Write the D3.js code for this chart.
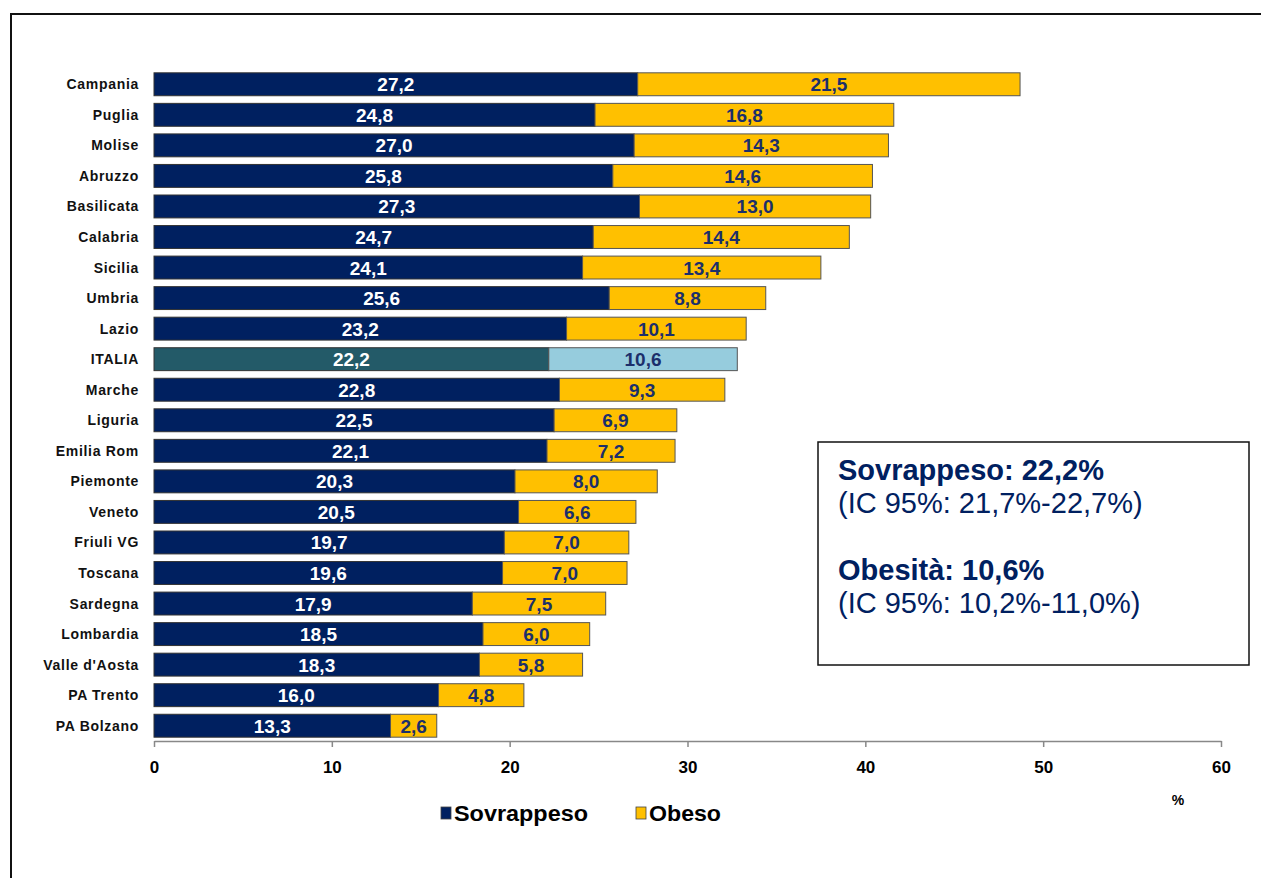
<!DOCTYPE html>
<html>
<head>
<meta charset="utf-8">
<script src="https://cdn.jsdelivr.net/npm/d3@7"></script>
<style>
	body { margin: 0; background: #fff; }
	svg { font-family: Arial, "Liberation Sans", sans-serif; }
	.cat-label { font-size: 14px; font-weight: bold; fill: #111; letter-spacing: 0.7px; }
	.val-label { font-size: 19px; font-weight: bold; }
</style>
</head>
<body>
<div id="chart"></div>
<script>
// regions, top to bottom
var regions = ["Campania", "Puglia", "Molise", "Abruzzo", "Basilicata", "Calabria", "Sicilia",
	"Umbria", "Lazio", "ITALIA", "Marche", "Liguria", "Emilia Rom", "Piemonte", "Veneto",
	"Friuli VG", "Toscana", "Sardegna", "Lombardia", "Valle d'Aosta", "PA Trento", "PA Bolzano"];

var sovrappeso = [27.2, 24.8, 27.0, 25.8, 27.3, 24.7, 24.1, 25.6, 23.2, 22.2, 22.8,
	22.5, 22.1, 20.3, 20.5, 19.7, 19.6, 17.9, 18.5, 18.3, 16.0, 13.3];

var obeso = [21.5, 16.8, 14.3, 14.6, 13.0, 14.4, 13.4, 8.8, 10.1, 10.6, 9.3,
	6.9, 7.2, 8.0, 6.6, 7.0, 7.0, 7.5, 6.0, 5.8, 4.8, 2.6];

var xTicks = [0, 10, 20, 30, 40, 50, 60];

var navy = "#002060";
var yellow = "#FFC000";

var fmt = function(v) { return v.toFixed(1).replace(".", ","); };

var svg = d3.select("#chart").append("svg")
	.attr("width", 1261)
	.attr("height", 878);

// outer frame
svg.append("rect")
	.attr("x", 11).attr("y", 14)
	.attr("width", 1270).attr("height", 900)
	.attr("fill", "none")
	.attr("stroke", "#111")
	.attr("stroke-width", 2);

var x = d3.scaleLinear().domain([0, 60]).range([154, 1221]);
var y = d3.scaleBand().domain(regions).range([69, 741])
	.paddingInner(0.25).paddingOuter(0.125);

var data = regions.map(function(r, i) {
	return { region: r, s: sovrappeso[i], o: obeso[i] };
});

// sovrappeso bars
svg.selectAll("rect.bar-s")
	.data(data)
	.enter()
	.append("rect")
	.attr("class", "bar-s")
	.attr("x", x(0))
	.attr("y", function(d) { return y(d.region); })
	.attr("width", function(d) { return x(d.s) - x(0); })
	.attr("height", y.bandwidth())
	.attr("fill", function(d) { return d.region == "ITALIA" ? "#235A68" : navy; })
	.attr("stroke", "#333")
	.attr("stroke-width", 1);

// obeso bars
svg.selectAll("rect.bar-o")
	.data(data)
	.enter()
	.append("rect")
	.attr("class", "bar-o")
	.attr("x", function(d) { return x(d.s); })
	.attr("y", function(d) { return y(d.region); })
	.attr("width", function(d) { return x(d.s + d.o) - x(d.s); })
	.attr("height", y.bandwidth())
	.attr("fill", function(d) { return d.region == "ITALIA" ? "#96CCDD" : yellow; })
	.attr("stroke", "#555")
	.attr("stroke-width", 1);

// value labels
svg.selectAll("text.val-s")
	.data(data)
	.enter()
	.append("text")
	.attr("class", "val-label")
	.attr("text-anchor", "middle")
	.attr("x", function(d) { return x(d.s / 2); })
	.attr("y", function(d) { return y(d.region) + y.bandwidth() / 2 + 7; })
	.attr("fill", "#fff")
	.text(function(d) { return fmt(d.s); });

svg.selectAll("text.val-o")
	.data(data)
	.enter()
	.append("text")
	.attr("class", "val-label")
	.attr("text-anchor", "middle")
	.attr("x", function(d) { return x(d.s + d.o / 2); })
	.attr("y", function(d) { return y(d.region) + y.bandwidth() / 2 + 7; })
	.attr("fill", "#1B2F6B")
	.text(function(d) { return fmt(d.o); });

// category labels
svg.selectAll("text.cat-label")
	.data(data)
	.enter()
	.append("text")
	.attr("class", "cat-label")
	.attr("text-anchor", "end")
	.attr("x", 139)
	.attr("y", function(d) { return y(d.region) + y.bandwidth() / 2 + 5; })
	.text(function(d) { return d.region; });

// x axis
var xAxis = svg.append("g")
	.attr("transform", "translate(0,741)")
	.call(d3.axisBottom(x).tickValues(xTicks).tickSize(6).tickSizeOuter(0).tickPadding(14));
xAxis.select(".domain").attr("stroke", "#888").attr("stroke-width", 1.5);
xAxis.selectAll(".tick line").attr("stroke", "#888").attr("stroke-width", 1.5);
xAxis.selectAll(".tick text")
	.attr("font-size", 17)
	.attr("font-weight", "bold")
	.attr("fill", "#000");

svg.append("text")
	.attr("x", 1178).attr("y", 805)
	.attr("text-anchor", "middle")
	.attr("font-size", 14).attr("font-weight", "bold")
	.text("%");

// legend
var legend = [
	{ name: "Sovrappeso", color: navy, x: 441, w: 134 },
	{ name: "Obeso", color: yellow, x: 636, w: 72 }
];
var lg = svg.selectAll("g.legend")
	.data(legend)
	.enter()
	.append("g")
	.attr("class", "legend");
lg.append("rect")
	.attr("x", function(d) { return d.x; })
	.attr("y", 807)
	.attr("width", 10).attr("height", 12)
	.attr("fill", function(d) { return d.color; })
	.attr("stroke", "#444").attr("stroke-width", 0.8);
lg.append("text")
	.attr("x", function(d) { return d.x + 13; })
	.attr("y", 821)
	.attr("font-size", 22).attr("font-weight", "bold")
	.attr("textLength", function(d) { return d.w; })
	.attr("lengthAdjust", "spacingAndGlyphs")
	.text(function(d) { return d.name; });

// summary box
svg.append("rect")
	.attr("x", 818).attr("y", 442)
	.attr("width", 431).attr("height", 223)
	.attr("fill", "#fff")
	.attr("stroke", "#111").attr("stroke-width", 1.5);

var boxLines = [
	{ t: "Sovrappeso: 22,2%", bold: true, y: 480 },
	{ t: "(IC 95%: 21,7%-22,7%)", bold: false, y: 513 },
	{ t: "Obesità: 10,6%", bold: true, y: 580 },
	{ t: "(IC 95%: 10,2%-11,0%)", bold: false, y: 613 }
];
svg.selectAll("text.box-text")
	.data(boxLines)
	.enter()
	.append("text")
	.attr("class", "box-text")
	.attr("x", 838)
	.attr("y", function(d) { return d.y; })
	.attr("font-size", 29)
	.attr("font-weight", function(d) { return d.bold ? "bold" : "normal"; })
	.attr("fill", navy)
	.text(function(d) { return d.t; });
</script>
</body>
</html>
